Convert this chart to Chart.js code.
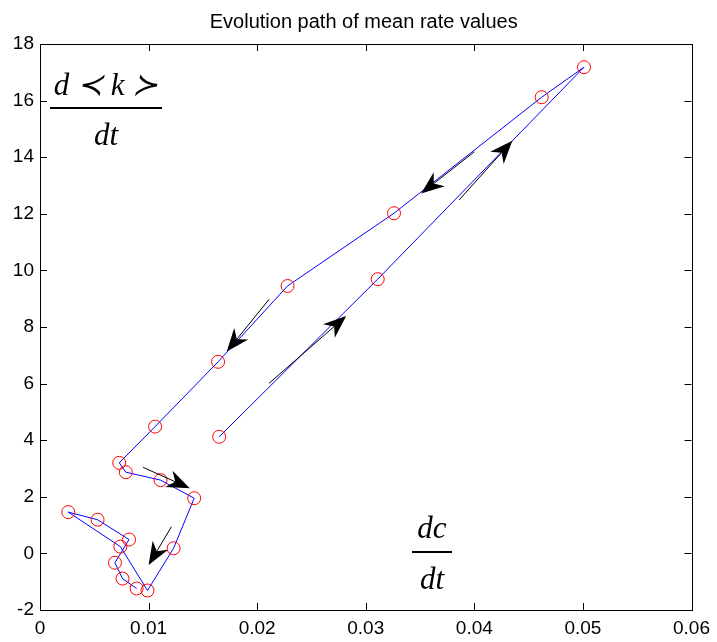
<!DOCTYPE html>
<html>
<head>
<meta charset="utf-8">
<title>Evolution path of mean rate values</title>
<script src="https://cdn.jsdelivr.net/npm/chart.js@4.4.1/dist/chart.umd.min.js"></script>
<style>
  html, body { margin: 0; padding: 0; background: #fff; }
  #wrap { width: 717px; height: 642px; }
</style>
</head>
<body>
<div id="wrap"><canvas id="chart" width="717" height="642"></canvas></div>
<script>
// path of (dc/dt, d<k>/dt) mean values, in the order they were visited
const dcdt = [0.0165, 0.0311, 0.0501, 0.0462, 0.0326, 0.0228, 0.0164, 0.0106, 0.0073, 0.0079, 0.0111,
              0.0142, 0.0123, 0.0099, 0.0074, 0.0026, 0.0053, 0.0082, 0.0069, 0.0076, 0.0089];
const dkdt = [4.12, 9.69, 17.18, 16.12, 12.02, 9.45, 6.77, 4.48, 3.20, 2.87, 2.59,
              1.95, 0.18, -1.31, 0.24, 1.46, 1.19, 0.49, -0.33, -0.89, -1.24];

const xTicks = [0, 0.01, 0.02, 0.03, 0.04, 0.05, 0.06];
const yTicks = [-2, 0, 2, 4, 6, 8, 10, 12, 14, 16, 18];

// direction arrows drawn over the path (tail -> tip, data units)
const arrowTailX = [0.0386, 0.0400, 0.0211, 0.0211, 0.0095, 0.0121];
const arrowTailY = [12.49, 14.19, 6.01, 8.98, 3.04, 0.94];
const arrowTipX  = [0.0435, 0.0351, 0.0282, 0.0172, 0.0138, 0.0100];
const arrowTipY  = [14.58, 12.72, 8.39, 7.13, 2.30, -0.41];

const titleText = 'Evolution path of mean rate values';

const points = dcdt.map((x, i) => ({ x: x, y: dkdt[i] }));

function drawArrow(ctx, x1, y1, x2, y2) {
  const ang = Math.atan2(y2 - y1, x2 - x1);
  const L = 23, W = 9, notch = 7;
  ctx.save();
  ctx.strokeStyle = '#000';
  ctx.fillStyle = '#000';
  ctx.lineWidth = 1;
  ctx.beginPath();
  ctx.moveTo(x1, y1);
  ctx.lineTo(x2 - Math.cos(ang) * (L - notch), y2 - Math.sin(ang) * (L - notch));
  ctx.stroke();
  ctx.translate(x2, y2);
  ctx.rotate(ang);
  ctx.beginPath();
  ctx.moveTo(0, 0);
  ctx.lineTo(-L, W);
  ctx.lineTo(-L + notch, 0);
  ctx.lineTo(-L, -W);
  ctx.closePath();
  ctx.fill();
  ctx.restore();
}

function drawFraction(ctx, num, den, cx, numBase, barY, barHalf, denBase) {
  ctx.save();
  ctx.fillStyle = '#000';
  ctx.textAlign = 'center';
  ctx.textBaseline = 'alphabetic';
  ctx.font = 'italic 31px "Liberation Serif", "DejaVu Serif", serif';
  ctx.fillText(num, cx, numBase);
  ctx.fillText(den, cx, denBase);
  ctx.fillRect(cx - barHalf, barY - 1, barHalf * 2, 2);
  ctx.restore();
}

const framePlugin = {
  id: 'frame',
  afterDatasetsDraw(chart) {
    const { ctx, chartArea: a, scales: { x, y } } = chart;
    ctx.save();
    ctx.strokeStyle = '#000';
    ctx.lineWidth = 1;
    ctx.strokeRect(Math.round(a.left) + 0.5, Math.round(a.top) + 0.5,
                   Math.round(a.right - a.left), Math.round(a.bottom - a.top));
    const tl = 7;
    ctx.beginPath();
    xTicks.forEach(v => {
      const px = Math.round(x.getPixelForValue(v)) + 0.5;
      ctx.moveTo(px, a.bottom); ctx.lineTo(px, a.bottom - tl);
      ctx.moveTo(px, a.top); ctx.lineTo(px, a.top + tl);
    });
    yTicks.forEach(v => {
      const py = Math.round(y.getPixelForValue(v)) + 0.5;
      ctx.moveTo(a.left, py); ctx.lineTo(a.left + tl, py);
      ctx.moveTo(a.right, py); ctx.lineTo(a.right - tl, py);
    });
    ctx.stroke();

    // title centred over the axes box
    ctx.fillStyle = '#000';
    ctx.font = '20px "Liberation Sans", Arial, sans-serif';
    ctx.textAlign = 'center';
    ctx.textBaseline = 'alphabetic';
    ctx.fillText(titleText, (a.left + a.right) / 2 - 2, 28);
    ctx.restore();

    arrowTailX.forEach((tx, i) => {
      drawArrow(ctx, x.getPixelForValue(tx), y.getPixelForValue(arrowTailY[i]),
                x.getPixelForValue(arrowTipX[i]), y.getPixelForValue(arrowTipY[i]));
    });

    drawFraction(ctx, 'd \u227A k \u227B', 'dt', 106, 95, 108, 56, 145);
    drawFraction(ctx, 'dc', 'dt', 432, 538, 552, 20, 589);
  }
};

new Chart(document.getElementById('chart'), {
  type: 'scatter',
  data: {
    datasets: [{
      data: points,
      showLine: true,
      borderColor: '#0000ff',
      borderWidth: 1,
      pointStyle: 'circle',
      pointRadius: 6.5,
      pointBorderColor: '#ff0000',
      pointBackgroundColor: 'rgba(0,0,0,0)',
      pointBorderWidth: 1,
      tension: 0
    }]
  },
  options: {
    responsive: false,
    animation: false,
    events: [],
    layout: { padding: { left: 0, right: 25, top: 44, bottom: 0 } },
    plugins: {
      legend: { display: false },
      tooltip: { enabled: false },
      title: { display: false }
    },
    scales: {
      x: {
        type: 'linear',
        min: 0, max: 0.06,
        afterBuildTicks: s => { s.ticks = xTicks.map(v => ({ value: v })); },
        afterFit: s => { s.height = 32; },
        grid: { display: false, drawTicks: false },
        border: { display: false },
        ticks: {
          color: '#000',
          padding: 7,
          maxRotation: 0,
          autoSkip: false,
          font: { family: '"Liberation Sans", Arial, sans-serif', size: 19 },
          callback: v => String(+v.toFixed(2))
        }
      },
      y: {
        type: 'linear',
        min: -2, max: 18,
        afterBuildTicks: s => { s.ticks = yTicks.map(v => ({ value: v })); },
        afterFit: s => { s.width = 40; },
        grid: { display: false, drawTicks: false },
        border: { display: false },
        ticks: {
          color: '#000',
          padding: 6,
          autoSkip: false,
          font: { family: '"Liberation Sans", Arial, sans-serif', size: 19 },
          callback: v => String(v)
        }
      }
    }
  },
  plugins: [framePlugin]
});
</script>
</body>
</html>
